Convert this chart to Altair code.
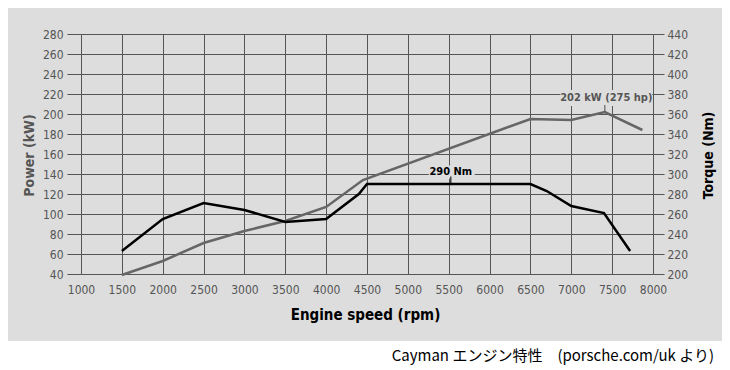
import altair as alt
import pandas as pd

# --- data ---
power_rpm = [1500, 2000, 2500, 3000, 3500, 4000, 4450, 6500, 7000, 7410, 7870]
power_kw = [39, 53, 71, 83, 93, 107, 134, 195, 194, 202, 184]

torque_rpm = [1500, 2000, 2500, 3000, 3500, 4000, 4400, 4500, 6500, 6700, 7000, 7400, 7720]
torque_nm = [223, 255, 271, 264, 252, 255, 280, 290, 290, 283, 268, 261, 223]

x_ticks = list(range(1000, 8001, 500))
power_ticks = list(range(40, 281, 20))
torque_ticks = list(range(200, 441, 20))

power_note_rpm = [7410]
power_note_val = [202]
power_note_txt = ["202 kW (275 hp)"]

torque_note_rpm = [5525]
torque_note_val = [290]
torque_note_txt = ["290 Nm"]

caption_txt = ["Cayman エンジン特性\u3000(porsche.com/uk より)"]

BG = "#dddddd"
GRID = "#555555"
LBL = "#555555"
FONT = "DejaVu Sans Condensed"

power_df = pd.DataFrame({"rpm": power_rpm, "value": power_kw})
torque_df = pd.DataFrame({"rpm": torque_rpm, "value": torque_nm})
pnote = pd.DataFrame({"rpm": power_note_rpm, "value": power_note_val, "label": power_note_txt})
tnote = pd.DataFrame({"rpm": torque_note_rpm, "value": torque_note_val, "label": torque_note_txt})
cap_df = pd.DataFrame({"t": caption_txt})

xenc = alt.X(
    "rpm:Q",
    scale=alt.Scale(domain=[1000, 8000], nice=False),
    axis=alt.Axis(
        values=x_ticks, format="d", grid=True, gridColor=GRID, gridWidth=1, gridOpacity=1,
        ticks=False, domain=False, labelPadding=10, labelFont=FONT, labelFontSize=12,
        labelColor=LBL, labelOverlap=False, labelFlush=False,
        title="Engine speed (rpm)", titleFont=FONT, titleFontSize=15,
        titleFontWeight="bold", titleColor="#000000", titleX=284, titleY=40,
        titleBaseline="middle", titleAlign="center",
    ),
)

pscale = alt.Scale(domain=[40, 280], nice=False)
tscale = alt.Scale(domain=[200, 440], nice=False)

yp = alt.Y(
    "value:Q",
    scale=pscale,
    axis=alt.Axis(
        orient="left", values=power_ticks, grid=True, gridColor=GRID, gridWidth=1, gridOpacity=1,
        domain=False, tickSize=14, tickColor=GRID, tickWidth=1, labelPadding=4,
        labelFont=FONT, labelFontSize=12, labelColor=LBL, labelOverlap=False, labelFlush=False,
        title="Power (kW)", titleFont=FONT, titleFontSize=14, titleFontWeight="bold",
        titleColor=LBL, titleX=-52, titleY=121, titleAngle=270,
        titleAlign="center", titleBaseline="middle",
    ),
)

yt = alt.Y(
    "value:Q",
    scale=tscale,
    axis=alt.Axis(
        orient="right", values=torque_ticks, grid=False,
        domain=False, tickSize=11, tickColor=GRID, tickWidth=1, labelPadding=3,
        labelFont=FONT, labelFontSize=12, labelColor=LBL, labelOverlap=False, labelFlush=False,
        title="Torque (Nm)", titleFont=FONT, titleFontSize=14, titleFontWeight="bold",
        titleColor="#000000", titleX=55, titleY=121, titleAngle=270,
        titleAlign="center", titleBaseline="middle",
    ),
)

white = alt.Chart(cap_df).mark_rect(color="white").encode(
    x=alt.value(-80), x2=alt.value(660), y=alt.value(307), y2=alt.value(345)
)
caption = alt.Chart(cap_df).mark_text(
    align="right", baseline="alphabetic", font="Noto Sans CJK JP", fontSize=15, color="#000000"
).encode(x=alt.value(633), y=alt.value(327), text="t:N")

power_line = alt.Chart(power_df).mark_line(color="#666666", strokeWidth=2.5).encode(x=xenc, y=yp)
pbox = alt.Chart(pnote).mark_rect(color=BG, width=92, height=16, yOffset=-14, xOffset=1.5).encode(
    x=xenc, y=yp
)
ptext = alt.Chart(pnote).mark_text(
    font=FONT, fontSize=11, fontWeight="bold", color=LBL, dy=-14, dx=1.5, baseline="middle"
).encode(x=xenc, y=yp, text="label:N")
ptick = alt.Chart(pnote).mark_tick(
    orient="vertical", size=7, thickness=1.5, color=LBL, yOffset=-3.5
).encode(x=xenc, y=yp)

torque_line = alt.Chart(torque_df).mark_line(color="#000000", strokeWidth=2.5).encode(x=xenc, y=yt)
tbox = alt.Chart(tnote).mark_rect(color=BG, width=46, height=13, yOffset=-12, xOffset=1).encode(
    x=xenc, y=yt
)
ttext = alt.Chart(tnote).mark_text(
    font=FONT, fontSize=11, fontWeight="bold", color="#000000", dy=-12, baseline="middle"
).encode(x=xenc, y=yt, text="label:N")
ttick = alt.Chart(tnote).mark_tick(
    orient="vertical", size=7, thickness=1.5, color="#000000", yOffset=-4
).encode(x=xenc, y=yt)

layer_p = alt.layer(power_line, pbox, ptext, ptick, white, caption)
layer_t = alt.layer(torque_line, tbox, ttext, ttick)

chart = (
    alt.layer(layer_p, layer_t)
    .resolve_scale(y="independent")
    .properties(
        width=572, height=240, background=BG,
        padding={"left": 73, "top": 26, "right": 69, "bottom": 96},
        autosize=alt.AutoSizeParams(type="none"),
    )
    .configure_view(stroke=None)
)

chart.save("out.html", embed_options={"renderer": "svg", "actions": False})
